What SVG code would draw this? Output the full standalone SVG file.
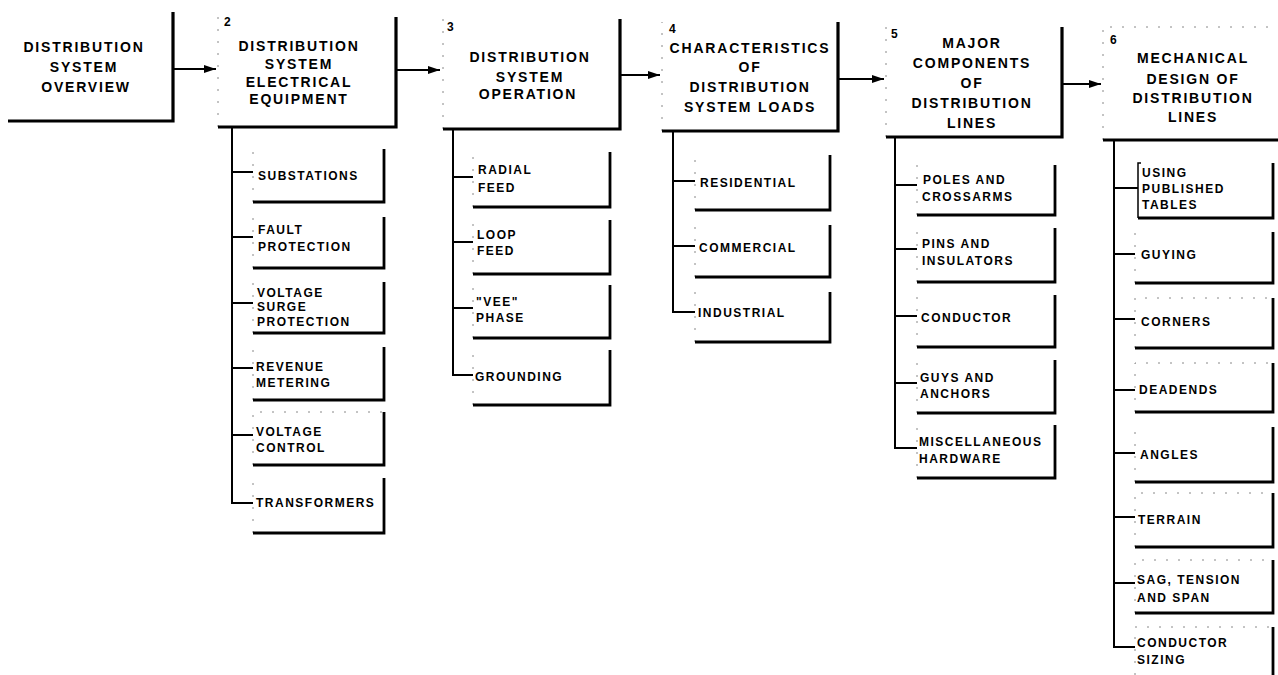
<svg xmlns="http://www.w3.org/2000/svg" width="1278" height="675" viewBox="0 0 1278 675">
<style>
.bg{fill:#fff}
.thk{fill:none;stroke:#000;stroke-width:3.2;stroke-linejoin:miter}
.sthk{fill:none;stroke:#000;stroke-width:2.8}
.thin{fill:none;stroke:#000;stroke-width:1.5}
.dsh{fill:none;stroke:#888;stroke-width:1;stroke-dasharray:2 10}
.con{fill:none;stroke:#000;stroke-width:2}
.arr{fill:none;stroke:#000;stroke-width:2;marker-end:url(#ah)}
.h{font-family:"Liberation Sans",Arial,sans-serif;font-size:14px;font-weight:bold;letter-spacing:1.8px;text-anchor:middle;fill:#000}
.n{font-family:"Liberation Sans",Arial,sans-serif;font-size:12px;font-weight:bold;fill:#000}
.s{font-family:"Liberation Sans",Arial,sans-serif;font-size:12px;font-weight:bold;letter-spacing:1.5px;fill:#000}
</style>
<defs>
<marker id="ah" viewBox="0 0 12 8" refX="12" refY="4" markerWidth="12" markerHeight="8" markerUnits="userSpaceOnUse" orient="auto">
<path d="M0,0 L12,4 L0,8 Z" fill="#000"/>
</marker>
</defs>
<rect class="bg" x="0" y="0" width="1278" height="675"/>

<g id="connectors">
<path class="arr" d="M173,69 H216"/>
<path class="arr" d="M396,70 H440"/>
<path class="arr" d="M620,75 H660"/>
<path class="arr" d="M838,79 H884"/>
<path class="arr" d="M1062,84 H1101"/>
<path class="con" d="M232,127 V503 H253 M232,172 H253 M232,237 H253 M232,303 H253 M232,368 H253 M232,435 H253"/>
<path class="con" d="M453,129 V375 H473 M453,177 H473 M453,242 H473 M453,308 H473"/>
<path class="con" d="M673,131 V312 H695 M673,181 H695 M673,246 H695"/>
<path class="con" d="M895,137 V448 H917 M895,185 H917 M895,249 H917 M895,316 H917 M895,383 H917"/>
<path class="con" d="M1114,140 V647 H1135 M1114,188 H1138 M1114,254 H1135 M1114,319 H1135 M1114,390 H1135 M1114,453 H1135 M1114,517 H1135 M1114,583 H1135"/>
</g>

<g id="n1">
<path class="thk" d="M173,12 V121 H8"/>
<text class="h" x="84" y="52">DISTRIBUTION</text>
<text class="h" x="84" y="72">SYSTEM</text>
<text class="h" x="86" y="92">OVERVIEW</text>
</g>

<g id="n2">
<path class="dsh" d="M218,127 V17"/>
<path class="thk" d="M396,17 V127 H218"/>
<text class="n" x="224" y="26">2</text>
<text class="h" x="299" y="51">DISTRIBUTION</text>
<text class="h" x="299" y="69">SYSTEM</text>
<text class="h" x="299" y="87">ELECTRICAL</text>
<text class="h" x="299" y="104">EQUIPMENT</text>
</g>

<g id="n3">
<path class="dsh" d="M443,129 V19"/>
<path class="thk" d="M620,19 V129 H443"/>
<text class="n" x="447" y="31">3</text>
<text class="h" x="530" y="62">DISTRIBUTION</text>
<text class="h" x="530" y="82">SYSTEM</text>
<text class="h" x="528" y="99">OPERATION</text>
</g>

<g id="n4">
<path class="dsh" d="M662,131 V22"/>
<path class="thk" d="M838,22 V131 H662"/>
<text class="n" x="669" y="33">4</text>
<text class="h" x="750" y="53">CHARACTERISTICS</text>
<text class="h" x="750" y="72">OF</text>
<text class="h" x="750" y="92">DISTRIBUTION</text>
<text class="h" x="750" y="112">SYSTEM LOADS</text>
</g>

<g id="n5">
<path class="dsh" d="M886,137 V27"/>
<path class="thk" d="M1062,27 V137 H886"/>
<text class="n" x="891" y="38">5</text>
<text class="h" x="972" y="48">MAJOR</text>
<text class="h" x="972" y="68">COMPONENTS</text>
<text class="h" x="972" y="88">OF</text>
<text class="h" x="972" y="108">DISTRIBUTION</text>
<text class="h" x="972" y="128">LINES</text>
</g>

<g id="n6">
<path class="dsh" d="M1103,140 V27 H1278"/>
<path class="thk" d="M1103,140 H1280"/>
<text class="n" x="1110" y="44">6</text>
<text class="h" x="1193" y="63">MECHANICAL</text>
<text class="h" x="1193" y="84">DESIGN OF</text>
<text class="h" x="1193" y="103">DISTRIBUTION</text>
<text class="h" x="1193" y="122">LINES</text>
</g>

<g id="n2a"><path class="dsh" d="M253,202 V149"/><path class="sthk" d="M384,149 V202 H253"/><text class="s" x="258" y="180">SUBSTATIONS</text></g>
<g id="n2b"><path class="dsh" d="M253,268 V217"/><path class="sthk" d="M384,217 V268 H253"/><text class="s" x="258" y="234">FAULT</text><text class="s" x="258" y="251">PROTECTION</text></g>
<g id="n2c"><path class="dsh" d="M253,333 V282"/><path class="sthk" d="M384,282 V333 H253"/><text class="s" x="257" y="297">VOLTAGE</text><text class="s" x="257" y="311">SURGE</text><text class="s" x="257" y="326">PROTECTION</text></g>
<g id="n2d"><path class="dsh" d="M253,400 V347"/><path class="sthk" d="M384,347 V400 H253"/><text class="s" x="256" y="371">REVENUE</text><text class="s" x="256" y="387">METERING</text></g>
<g id="n2e"><path class="dsh" d="M253,465 V412 H384"/><path class="sthk" d="M384,412 V465 H253"/><text class="s" x="256" y="436">VOLTAGE</text><text class="s" x="256" y="452">CONTROL</text></g>
<g id="n2f"><path class="dsh" d="M253,533 V478"/><path class="sthk" d="M384,478 V533 H253"/><text class="s" x="256" y="507">TRANSFORMERS</text></g>

<g id="n3a"><path class="dsh" d="M473,207 V152"/><path class="sthk" d="M610,152 V207 H473"/><text class="s" x="478" y="174">RADIAL</text><text class="s" x="478" y="192">FEED</text></g>
<g id="n3b"><path class="dsh" d="M473,274 V220"/><path class="sthk" d="M610,220 V274 H473"/><text class="s" x="477" y="239">LOOP</text><text class="s" x="477" y="255">FEED</text></g>
<g id="n3c"><path class="dsh" d="M473,338 V285"/><path class="sthk" d="M610,285 V338 H473"/><text class="s" x="476" y="306">"VEE"</text><text class="s" x="476" y="322">PHASE</text></g>
<g id="n3d"><path class="dsh" d="M473,405 V350"/><path class="sthk" d="M610,350 V405 H473"/><text class="s" x="475" y="381">GROUNDING</text></g>

<g id="n4a"><path class="dsh" d="M695,210 V155"/><path class="sthk" d="M830,155 V210 H695"/><text class="s" x="700" y="187">RESIDENTIAL</text></g>
<g id="n4b"><path class="dsh" d="M695,277 V225"/><path class="sthk" d="M830,225 V277 H695"/><text class="s" x="699" y="252">COMMERCIAL</text></g>
<g id="n4c"><path class="dsh" d="M695,342 V292"/><path class="sthk" d="M830,292 V342 H695"/><text class="s" x="698" y="317">INDUSTRIAL</text></g>

<g id="n5a"><path class="dsh" d="M917,215 V165"/><path class="sthk" d="M1055,165 V215 H917"/><text class="s" x="923" y="184">POLES AND</text><text class="s" x="922" y="201">CROSSARMS</text></g>
<g id="n5b"><path class="dsh" d="M917,282 V228"/><path class="sthk" d="M1055,228 V282 H917"/><text class="s" x="922" y="248">PINS AND</text><text class="s" x="922" y="265">INSULATORS</text></g>
<g id="n5c"><path class="dsh" d="M917,347 V295"/><path class="sthk" d="M1055,295 V347 H917"/><text class="s" x="921" y="322">CONDUCTOR</text></g>
<g id="n5d"><path class="dsh" d="M917,413 V360"/><path class="sthk" d="M1055,360 V413 H917"/><text class="s" x="920" y="382">GUYS AND</text><text class="s" x="920" y="398">ANCHORS</text></g>
<g id="n5e"><path class="dsh" d="M917,478 V425"/><path class="sthk" d="M1055,425 V478 H917"/><text class="s" x="919" y="446">MISCELLANEOUS</text><text class="s" x="919" y="463">HARDWARE</text></g>

<g id="n6a"><path class="thin" d="M1138,218 V163 H1141"/><path class="sthk" d="M1273,163 V218 H1138"/><text class="s" x="1142" y="177">USING</text><text class="s" x="1142" y="193">PUBLISHED</text><text class="s" x="1142" y="209">TABLES</text></g>
<g id="n6b"><path class="dsh" d="M1135,283 V232"/><path class="sthk" d="M1273,232 V283 H1135"/><text class="s" x="1141" y="259">GUYING</text></g>
<g id="n6c"><path class="dsh" d="M1135,348 V298 H1273"/><path class="sthk" d="M1273,298 V348 H1135"/><text class="s" x="1141" y="326">CORNERS</text></g>
<g id="n6d"><path class="dsh" d="M1135,412 V363 H1273"/><path class="sthk" d="M1273,363 V412 H1135"/><text class="s" x="1139" y="394">DEADENDS</text></g>
<g id="n6e"><path class="dsh" d="M1135,482 V427"/><path class="sthk" d="M1273,427 V482 H1135"/><text class="s" x="1140" y="459">ANGLES</text></g>
<g id="n6f"><path class="dsh" d="M1135,547 V493 H1273"/><path class="sthk" d="M1273,493 V547 H1135"/><text class="s" x="1138" y="524">TERRAIN</text></g>
<g id="n6g"><path class="dsh" d="M1135,613 V560 H1273"/><path class="sthk" d="M1273,560 V613 H1135"/><text class="s" x="1137" y="584">SAG, TENSION</text><text class="s" x="1137" y="602">AND SPAN</text></g>
<g id="n6h"><path class="dsh" d="M1135,675 V627 H1273"/><path class="sthk" d="M1273,627 V675"/><text class="s" x="1137" y="647">CONDUCTOR</text><text class="s" x="1137" y="664">SIZING</text></g>
</svg>
